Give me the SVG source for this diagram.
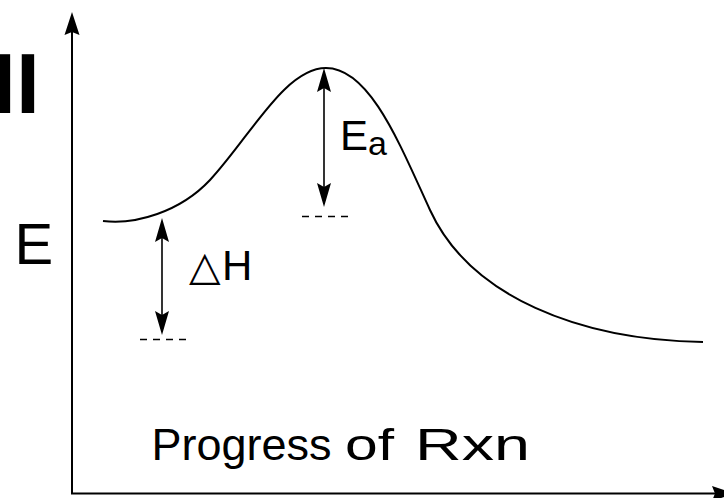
<svg xmlns="http://www.w3.org/2000/svg" width="724" height="498" viewBox="0 0 724 498">
<style>
  .ax{stroke:#000;stroke-width:2;fill:none}
  .arr{stroke:#000;stroke-width:1.6;fill:none}
  .dash{stroke:#000;stroke-width:1.3;stroke-dasharray:7,6;fill:none}
  .curve{stroke:#000;stroke-width:2;fill:none}
  .t{font-family:"Liberation Sans",Arial,sans-serif;fill:#000}
</style>
<defs>
  <marker id="axhead" markerUnits="userSpaceOnUse" viewBox="-14 -8 26 16" refX="0" refY="0" markerWidth="26" markerHeight="16" orient="auto" overflow="visible">
    <path d="M10,0 L-13,-7.5 L-10,0 L-13,7.5 Z" fill="#000"/>
  </marker>
  <marker id="head" markerUnits="userSpaceOnUse" viewBox="-17 -8 26 16" refX="0" refY="0" markerWidth="26" markerHeight="16" orient="auto-start-reverse" overflow="visible">
    <path d="M8,0 L-16,-7 L-12,0 L-16,7 Z" fill="#000"/>
  </marker>
</defs>
<text class="t" x="-8" y="113" font-size="86" font-weight="bold">II</text>
<g id="connectors">
  <line class="ax" x1="72" y1="494" x2="72" y2="22" marker-end="url(#axhead)"/>
  <line class="ax" x1="71" y1="493.5" x2="725" y2="493.5" marker-end="url(#axhead)"/>
  <line class="arr" x1="324" y1="76" x2="324" y2="199" marker-start="url(#head)" marker-end="url(#head)"/>
  <line class="arr" x1="162" y1="226" x2="162" y2="327" marker-start="url(#head)" marker-end="url(#head)"/>
  <line class="dash" x1="302" y1="216.5" x2="354" y2="216.5"/>
  <line class="dash" x1="140" y1="339.5" x2="186" y2="339.5"/>
</g>
<g id="curve">
  <path class="curve" d="M103,221 C135,225 180,212 210,180 C250,137 285,68 326,68 C370,68 400,145 430,210 C470,297 580,340 703,342"/>
</g>
<g id="label-E"><text class="t" x="14.5" y="264" font-size="58">E</text></g>
<g id="label-Ea"><text class="t" x="340" y="150" font-size="42">E<tspan font-size="34" dy="5">a</tspan></text></g>
<g id="label-dH"><text class="t" x="189" y="280" font-size="42"><tspan font-family="DejaVu Sans,sans-serif" font-size="41">△</tspan><tspan x="222">H</tspan></text></g>
<g id="label-x"><text class="t" y="460" font-size="45"><tspan x="151.5">Progress</tspan> <tspan x="345" textLength="49" lengthAdjust="spacingAndGlyphs">of</tspan> <tspan x="415" textLength="115" lengthAdjust="spacingAndGlyphs">Rxn</tspan></text></g>
</svg>
